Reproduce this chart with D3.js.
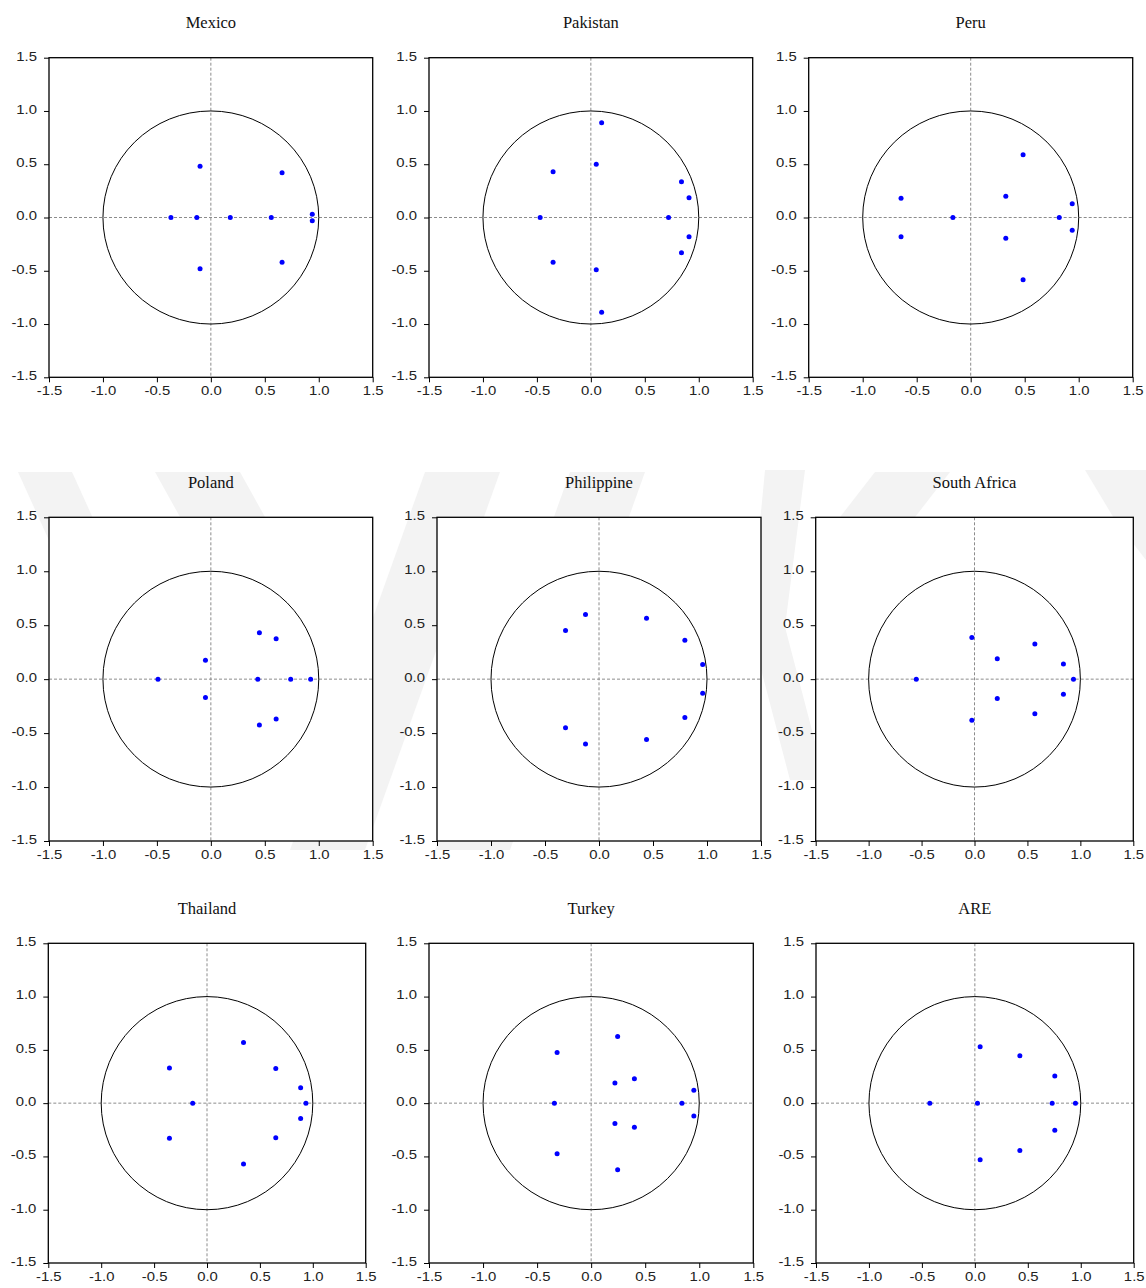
<!DOCTYPE html>
<html>
<head>
<meta charset="utf-8">
<script src="https://cdn.jsdelivr.net/npm/d3@7"></script>
<style>
  html, body { margin: 0; padding: 0; background: #fff; }
  svg { display: block; }
</style>
</head>
<body>
<svg id="chart" width="1146" height="1288"></svg>
<script>
// Inverse roots of the AR characteristic polynomial, one list per country: [real, imaginary]
const countries = ["Mexico", "Pakistan", "Peru", "Poland", "Philippine", "South Africa", "Thailand", "Turkey", "ARE"];

const mexicoRoots = [[-0.10, 0.48], [-0.10, -0.48], [0.66, 0.42], [0.66, -0.42], [-0.37, 0], [-0.13, 0], [0.18, 0], [0.56, 0], [0.94, 0.03], [0.94, -0.03]];
const pakistanRoots = [[0.10, 0.89], [0.10, -0.89], [0.05, 0.50], [0.05, -0.49], [-0.35, 0.43], [-0.35, -0.42], [0.84, 0.335], [0.84, -0.33], [0.91, 0.185], [0.91, -0.18], [-0.47, 0], [0.72, 0]];
const peruRoots = [[0.485, 0.59], [0.485, -0.585], [-0.645, 0.18], [-0.645, -0.18], [0.325, 0.20], [0.325, -0.195], [0.94, 0.13], [0.94, -0.12], [-0.165, 0], [0.82, 0]];
const polandRoots = [[0.45, 0.43], [0.45, -0.425], [0.605, 0.375], [0.605, -0.37], [-0.05, 0.175], [-0.05, -0.17], [-0.49, 0], [0.435, 0], [0.74, 0], [0.925, 0]];
const philippineRoots = [[-0.125, 0.60], [-0.125, -0.60], [-0.31, 0.45], [-0.31, -0.45], [0.44, 0.565], [0.44, -0.56], [0.795, 0.36], [0.795, -0.355], [0.96, 0.135], [0.96, -0.13]];
const southAfricaRoots = [[-0.025, 0.385], [-0.025, -0.38], [0.57, 0.325], [0.57, -0.32], [0.215, 0.19], [0.215, -0.18], [0.84, 0.14], [0.84, -0.14], [-0.55, 0], [0.935, 0]];
const thailandRoots = [[0.345, 0.57], [0.345, -0.57], [-0.355, 0.33], [-0.355, -0.33], [0.65, 0.325], [0.65, -0.325], [0.885, 0.145], [0.885, -0.145], [-0.135, 0], [0.935, 0]];
const turkeyRoots = [[0.245, 0.625], [0.245, -0.625], [-0.315, 0.475], [-0.315, -0.475], [0.22, 0.19], [0.22, -0.19], [0.40, 0.23], [0.40, -0.225], [0.95, 0.12], [0.95, -0.12], [-0.34, 0], [0.84, 0]];
const areRoots = [[0.05, 0.53], [0.05, -0.53], [0.425, 0.445], [0.425, -0.445], [0.755, 0.255], [0.755, -0.255], [-0.425, 0], [0.025, 0], [0.73, 0], [0.95, 0]];

const rootSets = [mexicoRoots, pakistanRoots, peruRoots, polandRoots, philippineRoots, southAfricaRoots, thailandRoots, turkeyRoots, areRoots];

const axisTicks = [-1.5, -1.0, -0.5, 0.0, 0.5, 1.0, 1.5];
const axisDomain = [-1.5, 1.5];

// Plot rectangles [left, top, right, bottom] for the 3x3 grid
const frames = [
  [49, 57.7, 372.7, 377.3], [429, 57.7, 752.7, 377.3], [808.7, 57.7, 1132.7, 377.3],
  [49, 517.3, 372.7, 841], [437, 517.3, 761, 841], [815.7, 517.3, 1133.3, 841],
  [48.3, 943.3, 365.7, 1263], [429, 943.3, 753.3, 1263], [816, 943.3, 1133.7, 1263]
];

const svg = d3.select("#chart");
svg.append("rect").attr("width", 1146).attr("height", 1288).attr("fill", "#fff");

// faint background emblem behind the middle row
const emblem = [
  [[18, 472], [72, 472], [130, 600], [76, 600]],
  [[155, 472], [240, 472], [300, 580], [215, 580]],
  [[425, 472], [500, 472], [365, 850], [290, 850]],
  [[570, 472], [645, 472], [510, 850], [435, 850]],
  [[765, 470], [805, 470], [785, 627], [825, 780], [790, 780], [750, 627]],
  [[875, 472], [950, 472], [905, 530], [830, 530]],
  [[1085, 470], [1146, 470], [1146, 560], [1115, 520]]
];
svg.append("g").selectAll("path").data(emblem).join("path")
  .attr("d", d => "M" + d.map(p => p.join(",")).join("L") + "Z")
  .attr("fill", "#f3f3f3");

const fmt = d => d.toFixed(1);
const stretch = 1.24;

countries.forEach((name, i) => {
  const [l, t, r, b] = frames[i];
  const x = d3.scaleLinear().domain(axisDomain).range([l, r]);
  const y = d3.scaleLinear().domain(axisDomain).range([b, t]);
  const g = svg.append("g");

  // plot background
  g.append("rect").attr("x", l).attr("y", t).attr("width", r - l).attr("height", b - t).attr("fill", "#fff");

  // zero reference lines
  g.append("line").attr("x1", x(0)).attr("x2", x(0)).attr("y1", t).attr("y2", b)
    .attr("stroke", "#8c8c8c").attr("stroke-width", 1).attr("stroke-dasharray", "3,2");
  g.append("line").attr("x1", l).attr("x2", r).attr("y1", y(0)).attr("y2", y(0))
    .attr("stroke", "#8c8c8c").attr("stroke-width", 1).attr("stroke-dasharray", "3,2");

  // unit circle
  g.append("ellipse").attr("cx", x(0)).attr("cy", y(0))
    .attr("rx", x(1) - x(0)).attr("ry", y(0) - y(1))
    .attr("fill", "none").attr("stroke", "#000").attr("stroke-width", 1);

  // roots
  g.append("g").selectAll("circle").data(rootSets[i]).join("circle")
    .attr("cx", d => x(d[0])).attr("cy", d => y(d[1])).attr("r", 2.5)
    .attr("fill", "#0000ff");

  // frame
  g.append("rect").attr("x", l).attr("y", t).attr("width", r - l).attr("height", b - t)
    .attr("fill", "none").attr("stroke", "#000").attr("stroke-width", 1.3);

  // axes
  const ya = g.append("g").attr("transform", `translate(${l},0)`)
    .call(d3.axisLeft(y).tickValues(axisTicks).tickFormat(fmt).tickSize(5).tickSizeOuter(0));
  ya.select(".domain").remove();
  ya.selectAll("text")
    .attr("x", -12 / stretch).attr("dy", "0.2em")
    .attr("transform", `scale(${stretch},1)`);

  const xa = g.append("g").attr("transform", `translate(0,${b})`)
    .call(d3.axisBottom(x).tickValues(axisTicks).tickFormat(fmt).tickSize(5).tickSizeOuter(0));
  xa.select(".domain").remove();
  xa.selectAll("text")
    .attr("y", 9).attr("dy", "0.71em")
    .attr("transform", `scale(${stretch},1)`);

  [ya, xa].forEach(a => {
    a.selectAll("line").attr("stroke", "#000");
    a.selectAll("text").attr("fill", "#222")
      .style("font-family", "'Liberation Sans', Arial, sans-serif").style("font-size", "12px");
  });

  // title
  g.append("text").attr("x", (l + r) / 2).attr("y", t - 29.5)
    .attr("text-anchor", "middle")
    .style("font-family", "'Liberation Serif', 'Times New Roman', serif")
    .style("font-size", "16.5px").attr("fill", "#111")
    .text(name);
});
</script>
</body>
</html>
